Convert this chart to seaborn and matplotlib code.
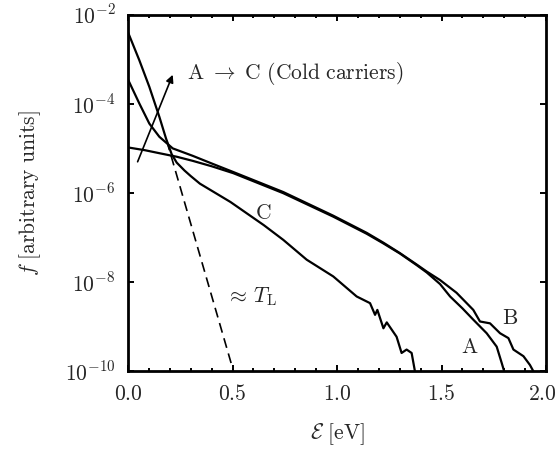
import numpy as np
import pandas as pd
import matplotlib
matplotlib.use("Agg")
import matplotlib.pyplot as plt
import matplotlib.transforms as mtransforms
import seaborn as sns
from matplotlib.ticker import FixedLocator, MultipleLocator, FuncFormatter

# ---- data ----
E_A = [0.0, 0.081, 0.15, 0.233, 0.31, 0.40, 0.504, 0.743, 0.982, 1.142, 1.222,
       1.301, 1.381, 1.429, 1.493, 1.541, 1.60, 1.652, 1.716, 1.764, 1.788, 1.800]
f_A = [1.05e-5, 9.1e-6, 7.8e-6, 6.5e-6, 5.25e-6, 3.98e-6, 2.78e-6, 9.9e-7,
       2.95e-7, 1.22e-7, 7.4e-8, 4.4e-8, 2.42e-8, 1.66e-8, 9.1e-9, 4.8e-9,
       2.6e-9, 1.45e-9, 7.2e-10, 3.6e-10, 1.55e-10, 1.0e-10]

E_B = [0.0, 0.054, 0.102, 0.15, 0.214, 0.31, 0.40, 0.504, 0.743, 0.982, 1.142,
       1.222, 1.301, 1.381, 1.429, 1.493, 1.572, 1.652, 1.684, 1.732, 1.780,
       1.820, 1.844, 1.892, 1.923, 1.940]
f_B = [3.5e-4, 1.02e-4, 3.6e-5, 1.82e-5, 1.0e-5, 6.8e-6, 4.6e-6, 2.95e-6,
       1.05e-6, 3.1e-7, 1.28e-7, 7.7e-8, 4.5e-8, 2.5e-8, 1.74e-8, 1.12e-8,
       5.8e-9, 2.4e-9, 1.32e-9, 1.2e-9, 7.2e-10, 5.6e-10, 3.1e-10, 2.2e-10,
       1.4e-10, 1.0e-10]

E_C = [0.0, 0.054, 0.102, 0.15, 0.182, 0.209, 0.233, 0.27, 0.30, 0.344, 0.49,
       0.65, 0.743, 0.855, 0.982, 1.094, 1.158, 1.182, 1.193, 1.222, 1.238,
       1.285, 1.309, 1.333, 1.357, 1.373]
f_C = [4.0e-3, 9.5e-4, 2.4e-4, 5.1e-5, 1.66e-5, 7.4e-6, 4.8e-6, 3.2e-6, 2.4e-6,
       1.62e-6, 6.3e-7, 1.9e-7, 8.9e-8, 3.2e-8, 1.35e-8, 4.8e-9, 3.4e-9,
       1.86e-9, 2.4e-9, 9.3e-10, 1.26e-9, 6.0e-10, 2.6e-10, 3.1e-10, 2.6e-10,
       1.0e-10]

E_TL = [0.185, 0.505]
f_TL = [1.5e-5, 1.0e-10]

y_ticks = [1e-10, 1e-8, 1e-6, 1e-4, 1e-2]
x_ticks = [0.0, 0.5, 1.0, 1.5, 2.0]

# ---- style ----
sns.set_theme(style="ticks")
plt.rcParams["font.family"] = ["DejaVu Serif"]
plt.rcParams["mathtext.fontset"] = "cm"

fig = plt.figure(figsize=(5.57, 4.51), dpi=100)
ax = fig.add_axes([0.2298, 0.1763, 0.9803 - 0.2298, 0.9678 - 0.1763])
ax.set_yscale("log")

lw = 1.6
for E, f in [(E_A, f_A), (E_B, f_B), (E_C, f_C)]:
    df = pd.DataFrame({"E": E, "f": f})
    sns.lineplot(data=df, x="E", y="f", ax=ax, color="black", lw=lw,
                 estimator=None, sort=False)
df_tl = pd.DataFrame({"E": E_TL, "f": f_TL})
sns.lineplot(data=df_tl, x="E", y="f", ax=ax, color="black", lw=1.2,
             estimator=None, sort=False)
ax.lines[-1].set_dashes((6, 3.5))

ax.set_xlim(0, 2.0)
ax.set_ylim(1e-10, 1e-2)

ax.yaxis.set_major_locator(FixedLocator(y_ticks))
ax.yaxis.set_minor_locator(FixedLocator([]))
ax.yaxis.set_major_formatter(FuncFormatter(lambda v, p: r"$10^{%d}$" % round(np.log10(v))))
ax.xaxis.set_major_locator(FixedLocator(x_ticks))
ax.xaxis.set_minor_locator(MultipleLocator(0.1))
ax.xaxis.set_major_formatter(FuncFormatter(lambda v, p: r"$%.1f$" % v))

ax.tick_params(which="both", direction="in", top=True, right=True,
               labelsize=15.5, color="black")
ax.tick_params(which="major", length=4, width=1.4)
ax.tick_params(which="minor", length=2.2, width=1.4)
ax.tick_params(axis="y", pad=9)
ax.tick_params(axis="x", pad=8)
for s in ax.spines.values():
    s.set_linewidth(2.0)
    s.set_color("black")

ax.set_xlabel(r"$\mathcal{E}\ [\mathrm{eV}]$", fontsize=15.5, labelpad=12)
ax.set_ylabel(r"$f\ [\mathrm{arbitrary\ units}]$", fontsize=15.5, labelpad=16)

# nudge the last x tick label slightly left so it stays inside the figure
last = ax.xaxis.get_major_ticks()[-1].label1
last.set_transform(last.get_transform() +
                   mtransforms.ScaledTranslation(-4 / 100, 0, fig.dpi_scale_trans))

# annotations
ax.annotate("", xy=(0.214, 10**-3.35), xytext=(0.046, 10**-5.30),
            arrowprops=dict(arrowstyle="-|>", lw=1.2, color="black",
                            mutation_scale=11, shrinkA=0, shrinkB=0))
ax.text(0.282, 10**-3.33,
        r"$\mathrm{A}\ \rightarrow\ \mathrm{C}\ (\mathrm{Cold\ carriers})$",
        fontsize=15.5, ha="left", va="center")
ax.text(0.648, 10**-6.45, r"$\mathrm{C}$", fontsize=15.5, ha="center", va="center")
ax.text(1.636, 10**-9.44, r"$\mathrm{A}$", fontsize=15.5, ha="center", va="center")
ax.text(1.828, 10**-8.80, r"$\mathrm{B}$", fontsize=15.5, ha="center", va="center")
ax.text(0.47, 10**-8.33, r"$\approx\, T_{\mathrm{L}}$", fontsize=15.5,
        ha="left", va="center")

fig.savefig("out.png", dpi=100)
